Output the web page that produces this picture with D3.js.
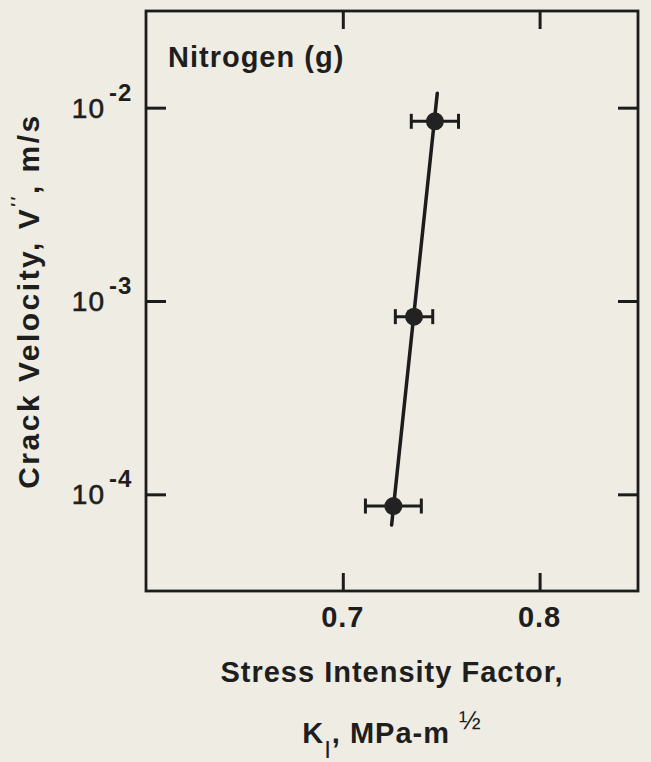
<!DOCTYPE html>
<html>
<head>
<meta charset="utf-8">
<script src="https://cdn.jsdelivr.net/npm/d3@7"></script>
<style>
  html, body { margin: 0; padding: 0; background: #efede3; }
  svg text { font-family: "Liberation Sans", Arial, Helvetica, sans-serif; fill: #1e1e1e; }
</style>
</head>
<body>
<div id="chart"></div>
<script>
// values
const kValues   = [0.7468, 0.7362, 0.7257];     // K_I, MPa-m^1/2
const velocities = [8.5e-3, 8.3e-4, 8.7e-5];    // crack velocity, m/s
const kErrors   = [0.012, 0.0095, 0.0142];      // +/- on K_I
const fitK = [0.748, 0.7248];                   // fitted line ends
const fitV = [0.01188, 6.94e-5];
const xTicks = [0.7, 0.8];
const yTickExps = [-2, -3, -4];
const gasLabel = "Nitrogen (g)";

const width = 651, height = 762;
const marginLeft = 146, marginTop = 11;
const w = 492, h = 580;

const svg = d3.select("#chart").append("svg")
    .attr("width", width)
    .attr("height", height)
    .attr("viewBox", [0, 0, width, height]);

svg.append("rect")
    .attr("width", width)
    .attr("height", height)
    .attr("fill", "#efede3");

const x = d3.scaleLinear().domain([0.6, 0.85]).range([0, w]);
const y = d3.scaleLog().domain([Math.pow(10, -4.5), Math.pow(10, -1.5)]).range([h, 0]);

const g = svg.append("g")
    .attr("transform", `translate(${marginLeft},${marginTop})`);

const ink = "#1c1c1c";
const yTickVals = yTickExps.map(e => Math.pow(10, e));

// axes, ticks pointing inward, no labels (drawn separately)
function styleAxis(sel) {
    sel.select(".domain").remove();
    sel.selectAll(".tick line").attr("stroke", ink).attr("stroke-width", 3);
    sel.selectAll(".tick text").remove();
}
g.append("g").attr("transform", `translate(0,${h})`)
    .call(d3.axisBottom(x).tickValues(xTicks).tickSizeInner(-18).tickSizeOuter(0))
    .call(styleAxis);
g.append("g")
    .call(d3.axisTop(x).tickValues(xTicks).tickSizeInner(-18).tickSizeOuter(0))
    .call(styleAxis);
g.append("g")
    .call(d3.axisLeft(y).tickValues(yTickVals).tickSizeInner(-20).tickSizeOuter(0))
    .call(styleAxis);
g.append("g").attr("transform", `translate(${w},0)`)
    .call(d3.axisRight(y).tickValues(yTickVals).tickSizeInner(-20).tickSizeOuter(0))
    .call(styleAxis);

// frame
g.append("rect")
    .attr("width", w)
    .attr("height", h)
    .attr("fill", "none")
    .attr("stroke", ink)
    .attr("stroke-width", 2.8);

// x tick labels
g.append("g").selectAll("text")
    .data(xTicks)
    .join("text")
    .attr("x", d => x(d))
    .attr("y", h + 36)
    .attr("text-anchor", "middle")
    .attr("font-size", 29)
    .attr("font-weight", "bold")
    .attr("letter-spacing", 1)
    .text(d => d3.format(".1f")(d));

// y tick labels: 10 with exponent
const yLab = g.append("g").selectAll("g")
    .data(yTickExps)
    .join("g")
    .attr("transform", d => `translate(0,${y(Math.pow(10, d))})`);
yLab.append("text")
    .attr("x", -41)
    .attr("y", 10)
    .attr("text-anchor", "end")
    .attr("font-size", 28)
    .attr("stroke", "#1e1e1e")
    .attr("stroke-width", 0.6)
    .attr("letter-spacing", 1)
    .text("10");
yLab.append("text")
    .attr("x", -37)
    .attr("y", -7)
    .attr("font-size", 24)
    .attr("font-weight", "bold")
    .attr("letter-spacing", 1)
    .text(d => "-" + Math.abs(d));

// fitted line
g.append("line")
    .attr("x1", x(fitK[0])).attr("y1", y(fitV[0]))
    .attr("x2", x(fitK[1])).attr("y2", y(fitV[1]))
    .attr("stroke", ink)
    .attr("stroke-width", 3.5)
    .attr("stroke-linecap", "round");

// error bars and points
const pts = kValues.map((k, i) => ({ k: k, v: velocities[i], e: kErrors[i] }));
const eb = g.append("g").attr("stroke", ink).attr("stroke-width", 3);
eb.selectAll(".bar").data(pts).join("line")
    .attr("x1", d => x(d.k - d.e)).attr("x2", d => x(d.k + d.e))
    .attr("y1", d => y(d.v)).attr("y2", d => y(d.v));
eb.selectAll(".capl").data(pts).join("line")
    .attr("x1", d => x(d.k - d.e)).attr("x2", d => x(d.k - d.e))
    .attr("y1", d => y(d.v) - 7.5).attr("y2", d => y(d.v) + 7.5);
eb.selectAll(".capr").data(pts).join("line")
    .attr("x1", d => x(d.k + d.e)).attr("x2", d => x(d.k + d.e))
    .attr("y1", d => y(d.v) - 7.5).attr("y2", d => y(d.v) + 7.5);
g.append("g").selectAll("circle").data(pts).join("circle")
    .attr("cx", d => x(d.k))
    .attr("cy", d => y(d.v))
    .attr("r", 9)
    .attr("fill", "#222");

// in-plot label
g.append("text")
    .attr("x", 22)
    .attr("y", 56)
    .attr("font-size", 29)
    .attr("font-weight", "bold")
    .attr("letter-spacing", 1)
    .text(gasLabel);

// x title, two lines
const cx = marginLeft + w / 2;
svg.append("text")
    .attr("x", cx)
    .attr("y", 682)
    .attr("text-anchor", "middle")
    .attr("font-size", 29)
    .attr("font-weight", "bold")
    .attr("letter-spacing", 1)
    .text("Stress Intensity Factor,");
const t2 = svg.append("text")
    .attr("x", cx)
    .attr("y", 743)
    .attr("text-anchor", "middle")
    .attr("font-size", 29)
    .attr("font-weight", "bold")
    .attr("letter-spacing", 1);
t2.append("tspan").text("K");
t2.append("tspan").attr("font-size", 24).attr("font-weight", "normal").attr("dy", 15).text("I");
t2.append("tspan").attr("dy", -15).text(", MPa-m ");
t2.append("tspan").attr("font-size", 26).attr("font-weight", "normal").attr("dy", -14).text("½");

// y title
const yt = svg.append("text")
    .attr("transform", `translate(39,${marginTop + h / 2}) rotate(-90)`)
    .attr("text-anchor", "middle")
    .attr("font-size", 30)
    .attr("font-weight", "bold")
    .attr("letter-spacing", 2.5);
yt.append("tspan").text("Crack Velocity, V");
yt.append("tspan").attr("font-size", 16).attr("dy", -16).text("′′");
yt.append("tspan").attr("dy", 16).text(", m/s");
</script>
</body>
</html>
